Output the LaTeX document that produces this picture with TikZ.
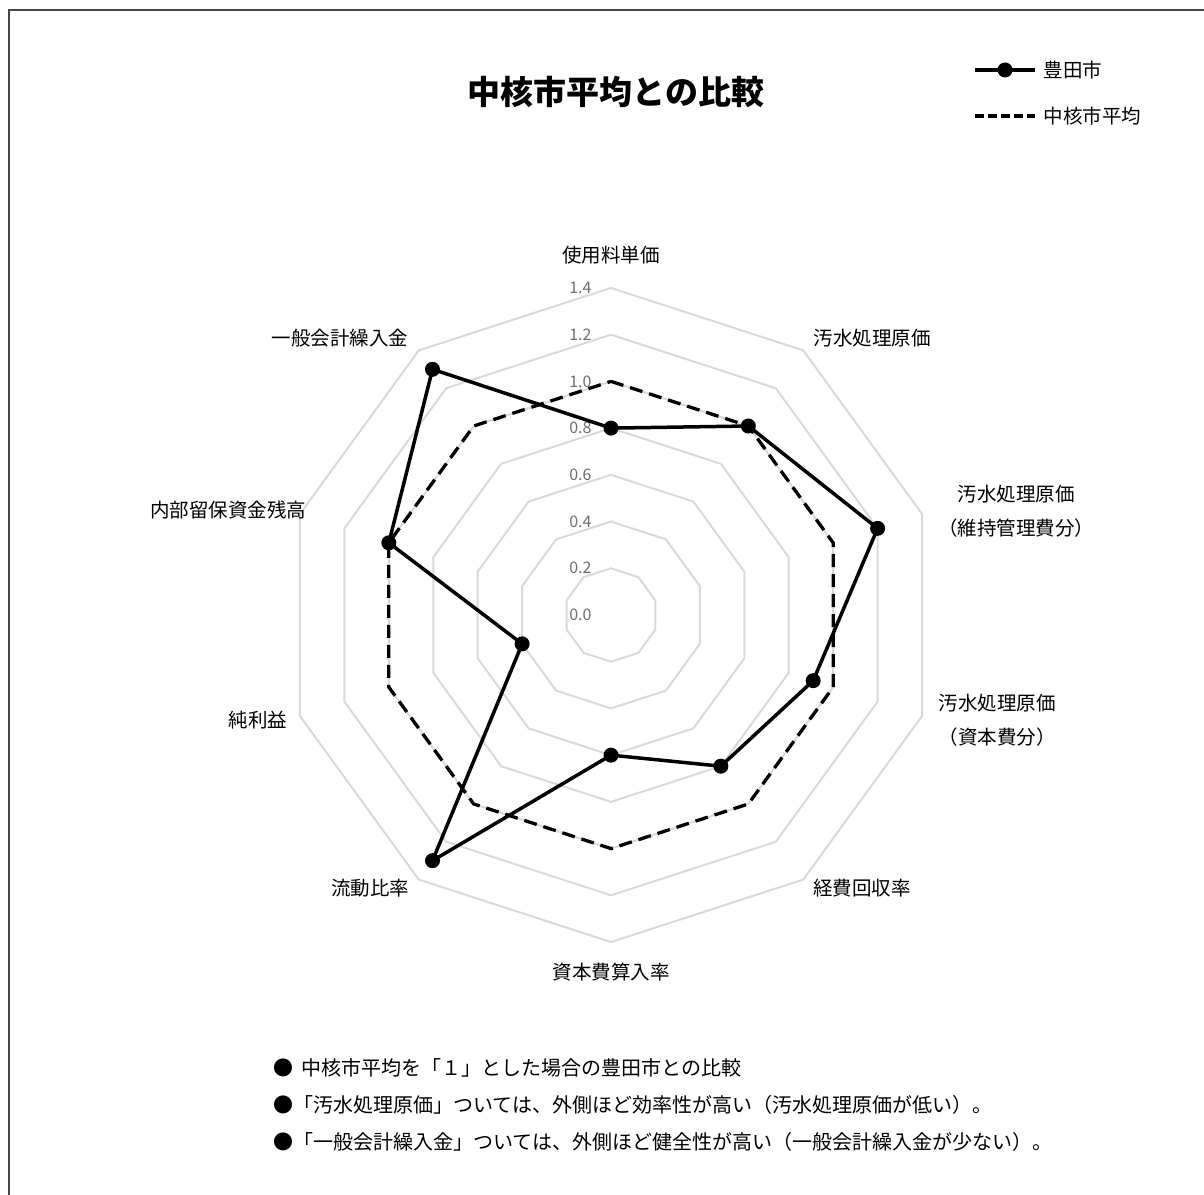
\documentclass[tikz,border=0pt]{standalone}
\usepackage{fontspec}
\setmainfont{Noto Sans CJK JP}
\usetikzlibrary{calc}
\definecolor{ringgray}{RGB}{217,217,217}
\definecolor{tickgray}{RGB}{110,110,110}
\definecolor{framegray}{RGB}{70,70,70}
\newcommand{\rr}{233.6}

\begin{document}
\begin{tikzpicture}[x=1pt,y=1pt,
    ring/.style={ringgray,line width=2pt},
    toyota/.style={black,line width=3.5pt,line join=round},
    average/.style={black,line width=3.3pt,dash pattern=on 13pt off 7pt},
    dot/.style={circle,fill=black,inner sep=0pt,minimum size=15pt},
    axislabel/.style={font=\fontsize{19.5}{34}\selectfont,align=center},
    ticklabel/.style={tickgray,anchor=east,font=\fontsize{16}{18}\selectfont},
    note/.style={anchor=west,font=\fontsize{20}{24}\selectfont}]
\useasboundingbox (0,0) rectangle (1204,1194);
\draw[framegray,line width=2pt] (9,-20) rectangle (1230,1184);

% title and legend
\node[font=\bfseries\fontsize{33}{36}\selectfont] (title) at (616,1102) {中核市平均との比較};
\coordinate (legAa) at (975,1124);
\coordinate (legAb) at (1035,1124);
\draw[toyota] (legAa) -- (legAb);
\node[dot] (legAdot) at ($(legAa)!0.5!(legAb)$) {};
\node[anchor=west,font=\fontsize{19.5}{22}\selectfont] (legA) at (1040,1124) {豊田市};
\coordinate (legBa) at (975,1078);
\coordinate (legBb) at (1035,1078);
\draw[average,dash pattern=on 9pt off 4pt] (legBa) -- (legBb);
\node[anchor=west,font=\fontsize{19.5}{22}\selectfont] (legB) at (1040,1078) {中核市平均};

% radar
\begin{scope}[shift={(611,579)}]
  \foreach \v in {0.2,0.4,0.6,0.8,1.0,1.2,1.4}
    \draw[ring] (90:\v*\rr) \foreach \a in {54,18,...,-234}{ -- (\a:\v*\rr)} -- cycle;
  \foreach \v in {0.0,0.2,0.4,0.6,0.8,1.0,1.2,1.4}
    \node[ticklabel] at (-16,\v*\rr) {\v};
  % average = 1
  \draw[average] (90:\rr) \foreach \a in {54,18,...,-234}{ -- (\a:\rr)} -- cycle;
  % toyota
  \foreach \a/\v/\n in {90/0.8/a,54/1.0/b,18/1.2/c,-18/0.91/d,-54/0.8/e,
                        -90/0.6/f,-126/1.3/g,-162/0.4/h,162/1.0/i,126/1.3/j}
    \coordinate (t\n) at (\a:\v*\rr);
  \draw[toyota] (ta) -- (tb) -- (tc) -- (td) -- (te) -- (tf) -- (tg) -- (th) -- (ti) -- (tj) -- cycle;
  \foreach \n in {a,b,c,d,e,f,g,h,i,j}
    \node[dot] at (t\n) {};
\end{scope}

% axis labels
\node[axislabel] (ax1) at (611,939) {使用料単価};
\node[axislabel] (ax2) at (872,856) {汚水処理原価};
\node[axislabel] (ax3) at (1016,683) {汚水処理原価\\（維持管理費分）};
\node[axislabel] (ax4) at (997,474) {汚水処理原価\\（資本費分）};
\node[axislabel] (ax5) at (862,306) {経費回収率};
\node[axislabel] (ax6) at (611,222) {資本費算入率};
\node[axislabel] (ax7) at (370,306) {流動比率};
\node[axislabel] (ax8) at (258,474) {純利益};
\node[axislabel] (ax9) at (228,684) {内部留保資金残高};
\node[axislabel] (ax10) at (340,856) {一般会計繰入金};

% notes
\node[note] (note1) at (270,126) {●\hspace{0.4em}中核市平均を「１」とした場合の豊田市との比較};
\node[note] (note2) at (270,89) {●「汚水処理原価」ついては、外側ほど効率性が高い（汚水処理原価が低い）。};
\node[note] (note3) at (270,52) {●「一般会計繰入金」ついては、外側ほど健全性が高い（一般会計繰入金が少ない）。};
\end{tikzpicture}
\end{document}
